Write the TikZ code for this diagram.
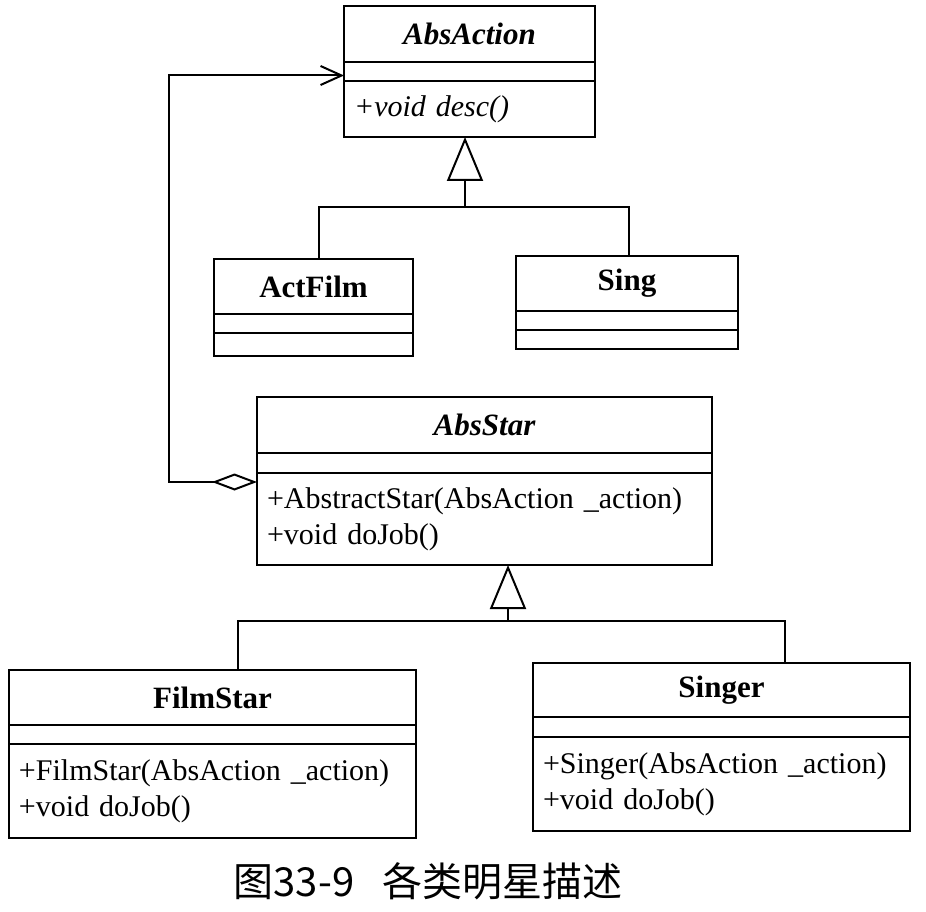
\documentclass[tikz,border=0pt]{standalone}
\usepackage{fontspec}
\setmainfont{Liberation Serif}
\newfontfamily\cjk{Noto Sans CJK SC}
\usetikzlibrary{positioning,arrows.meta}
\tikzset{
	box/.style={draw,line width=2pt,outer sep=0pt,inner sep=0pt},
	title/.style={box,font=\fontsize{31}{37}\selectfont\bfseries},
	abstitle/.style={box,font=\fontsize{31}{37}\selectfont\bfseries\itshape},
	ops/.style={box,align=left,inner xsep=10pt,font=\fontsize{30}{36}\selectfont},
	link/.style={line width=2pt},
	inherit/.style={link,-{Triangle[open,length=44pt,width=36pt]}},
	aggr/.style={link,{Diamond[open,length=45pt,width=17pt]}-{Straight Barb[length=21pt,width=19pt]}},
}
\begin{document}
\begin{tikzpicture}[x=1pt,y=-1pt]
	\useasboundingbox (0,0) rectangle (926,912);
	% AbsAction
	\node[abstitle,minimum width=251pt,minimum height=56pt,anchor=north west] (act) at (344,6) {AbsAction};
	\node[box,minimum width=251pt,minimum height=19pt,below=0pt of act] (act-a) {};
	\node[ops,text width=231pt,minimum height=56pt,below=0pt of act-a] (act-m) {\itshape +void desc()};
	% ActFilm, Sing
	\node[title,minimum width=199pt,minimum height=55pt,anchor=north west] (actfilm) at (214,259) {ActFilm};
	\node[box,minimum width=199pt,minimum height=19pt,below=0pt of actfilm] (actfilm-a) {};
	\node[box,minimum width=199pt,minimum height=23pt,below=0pt of actfilm-a] (actfilm-m) {};
	\node[title,minimum width=222pt,minimum height=55pt,anchor=north west] (sing) at (516,256) {Sing};
	\node[box,minimum width=222pt,minimum height=19pt,below=0pt of sing] (sing-a) {};
	\node[box,minimum width=222pt,minimum height=19pt,below=0pt of sing-a] (sing-m) {};
	% AbsStar
	\node[abstitle,minimum width=455pt,minimum height=56pt,anchor=north west] (star) at (257,397) {AbsStar};
	\node[box,minimum width=455pt,minimum height=20pt,below=0pt of star] (star-a) {};
	\node[ops,text width=435pt,minimum height=92pt,below=0pt of star-a] (star-m) {+AbstractStar(AbsAction \_action)\\+void doJob()};
	% FilmStar, Singer
	\node[title,minimum width=407pt,minimum height=55pt,anchor=north west] (film) at (9,670) {FilmStar};
	\node[box,minimum width=407pt,minimum height=19pt,below=0pt of film] (film-a) {};
	\node[ops,text width=387pt,minimum height=94pt,below=0pt of film-a] (film-m) {+FilmStar(AbsAction \_action)\\+void doJob()};
	\node[title,minimum width=377pt,minimum height=54pt,anchor=north west] (singer) at (533,663) {Singer};
	\node[box,minimum width=377pt,minimum height=20pt,below=0pt of singer] (singer-a) {};
	\node[ops,text width=357pt,minimum height=94pt,below=0pt of singer-a] (singer-m) {+Singer(AbsAction \_action)\\+void doJob()};
	% inheritance
	\coordinate (fork1) at (465,207);
	\draw[link] ([xshift=5.5pt]actfilm.north) |- (fork1) -| ([xshift=2pt]sing.north);
	\draw[inherit] (fork1) -- (fork1 |- act-m.south);
	\coordinate (fork2) at (508,621);
	\draw[link] ([xshift=25.5pt]film.north) |- (fork2) -| ([xshift=63.5pt]singer.north);
	\draw[inherit] (fork2) -- (fork2 |- star-m.south);
	% aggregation
	\draw[aggr] ([yshift=-9pt]star-m.north west) -- ++(-88,0) |- ([yshift=-4pt]act-a.west);
	% caption
	\node[font=\cjk\fontsize{40}{40}\selectfont] (caption) at (428,881) {图33-9\hspace{0.7em}各类明星描述};
\end{tikzpicture}
\end{document}
